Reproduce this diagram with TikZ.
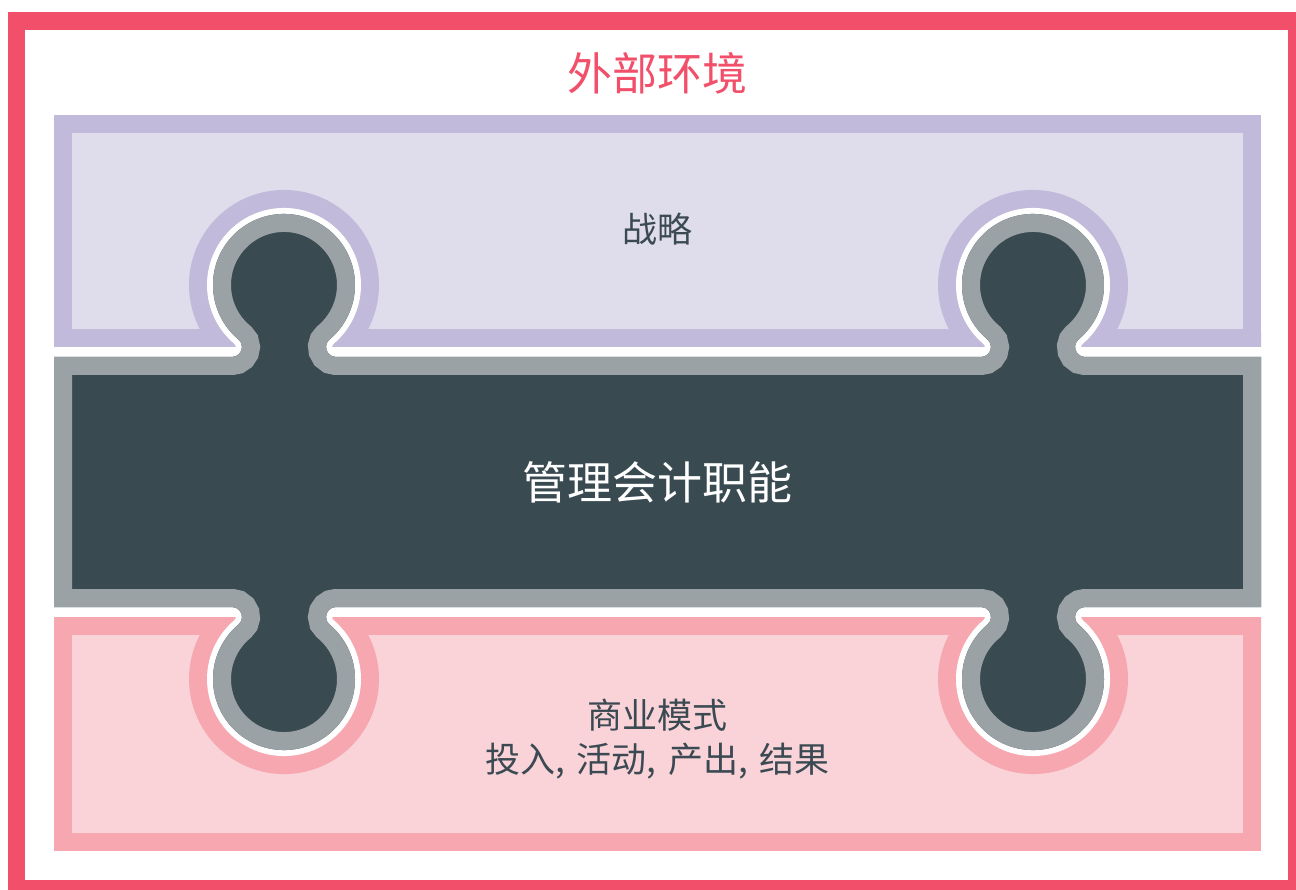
\documentclass[tikz,border=0pt]{standalone}
\usepackage{fontspec}
\setmainfont{Noto Sans CJK SC}
\definecolor{redc}{HTML}{F2506A}
\definecolor{purpB}{HTML}{C1BADB}
\definecolor{purpL}{HTML}{DFDCEB}
\definecolor{grayB}{HTML}{9AA2A5}
\definecolor{darkc}{HTML}{3A4A51}
\definecolor{pinkB}{HTML}{F6A7B0}
\definecolor{pinkL}{HTML}{F9D3D8}
\definecolor{txt}{HTML}{3B4A52}
\tikzset{
  Mshape/.style={insert path={
    (54,-357) -- (231.93,-357)
    arc[start angle=270, end angle=410, radius=10]
    arc[start angle=230, end angle=-50, radius=71]
    arc[start angle=130, end angle=270, radius=10]
    -- (980.93,-357)
    arc[start angle=270, end angle=410, radius=10]
    arc[start angle=230, end angle=-50, radius=71]
    arc[start angle=130, end angle=270, radius=10]
    -- (1261,-357) -- (1261,-607) -- (1085.07,-607)
    arc[start angle=90, end angle=230, radius=10]
    arc[start angle=50, end angle=-230, radius=71]
    arc[start angle=310, end angle=450, radius=10]
    -- (336.07,-607)
    arc[start angle=90, end angle=230, radius=10]
    arc[start angle=50, end angle=-230, radius=71]
    arc[start angle=310, end angle=450, radius=10]
    -- (54,-607) -- cycle}},
  bigtxt/.style={font=\fontsize{45}{54}\selectfont},
  midtxt/.style={font=\fontsize{35}{44}\selectfont, text=txt, align=center}
}
\begin{document}
\begin{tikzpicture}[x=1pt,y=1pt]
\useasboundingbox (0,0) rectangle (1296,-890);
\clip (0,0) rectangle (1296,-890);
\fill[white] (0,0) rectangle (1296,-890);
% outer frame
\draw[redc, line width=17.5] (16.5,-21) rectangle (1296.5,-888.5);
% strategy piece
\fill[purpB] (54,-115) rectangle (1261,-347);
\fill[purpL] (72,-133) rectangle (1243,-329);
% business model piece
\fill[pinkB] (54,-617) rectangle (1261,-851);
\fill[pinkL] (72,-635) rectangle (1243,-833);
% rings around knobs
\begin{scope}
  \clip (54,-115) rectangle (1261,-347);
  \draw[purpB, line width=48, line join=round, Mshape];
\end{scope}
\begin{scope}
  \clip (54,-617) rectangle (1261,-851);
  \draw[pinkB, line width=48, line join=round, Mshape];
\end{scope}
% white gap
\draw[white, line width=12, Mshape];
% central piece
\fill[darkc, Mshape];
\begin{scope}
  \clip[Mshape];
  \draw[grayB, line width=36, Mshape];
\end{scope}
% texts
\node[bigtxt, text=redc] (env) at (657.5,-73) {外部环境};
\node[midtxt] (strat) at (657.5,-229) {战略};
\node[bigtxt, text=white] (mgmt) at (657.5,-482) {管理会计职能};
\node[midtxt] (biz) at (657.5,-739) {商业模式\\投入,\hspace{4pt} 活动,\hspace{4pt} 产出,\hspace{4pt} 结果};
\end{tikzpicture}
\end{document}
